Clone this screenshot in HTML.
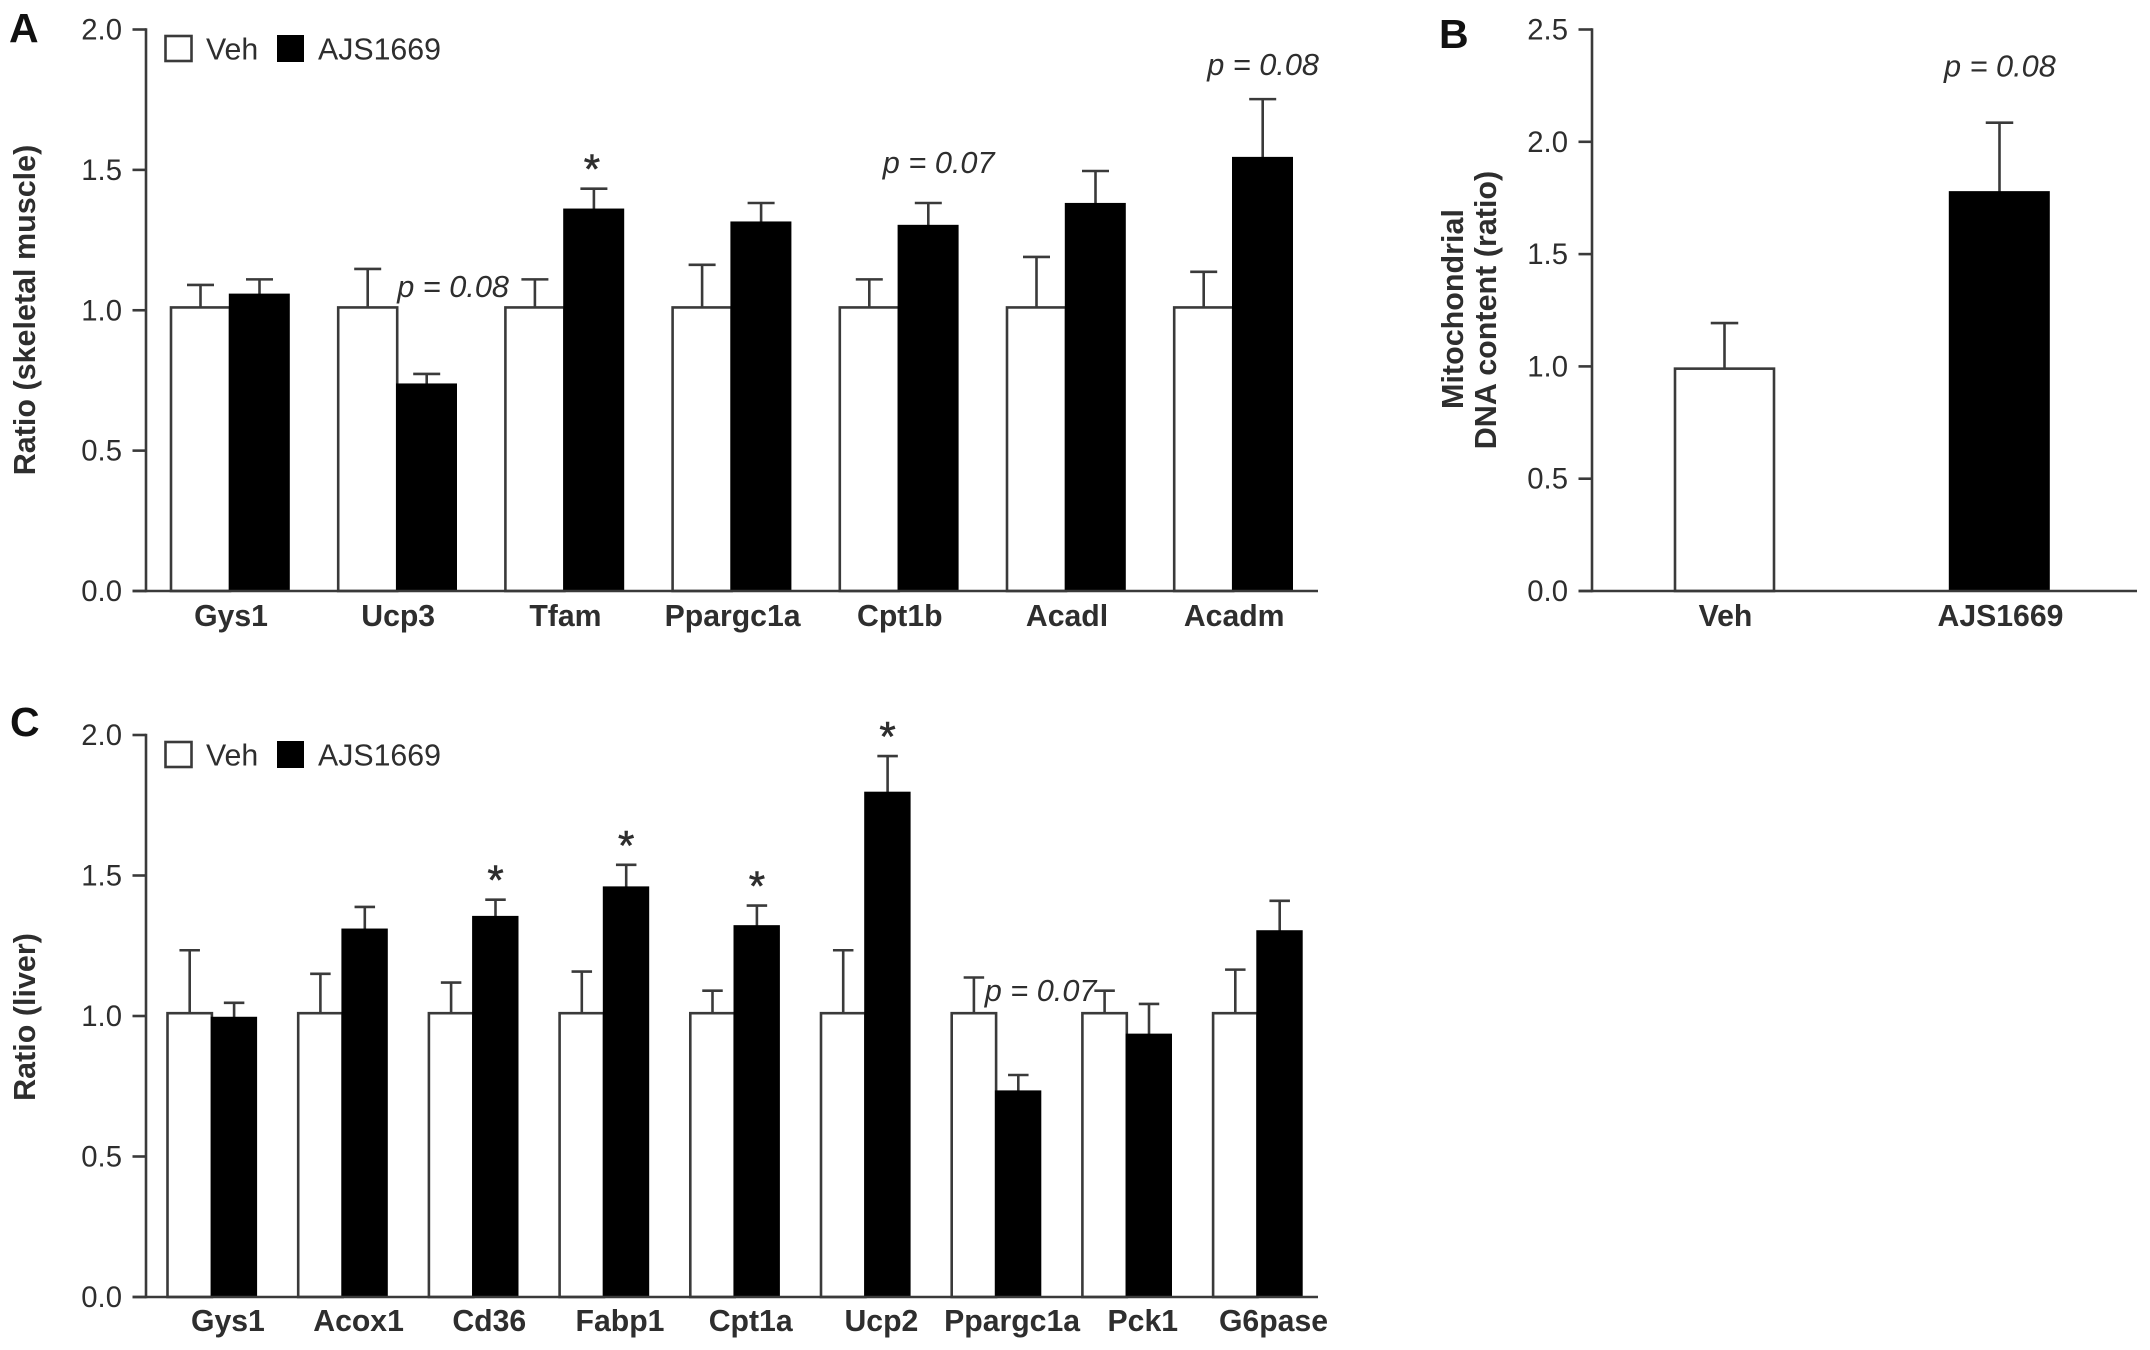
<!DOCTYPE html>
<html lang="en">
<head>
<meta charset="utf-8">
<title>AJS1669 gene expression and mitochondrial DNA content</title>
<style>
  html, body { margin: 0; padding: 0; background: #fff; }
  svg { display: block; }
  text { font-family: "Liberation Sans", sans-serif; fill: #2e2e2e; }
  .tick { font-size: 29.3px; text-anchor: end; }
  .cat { font-size: 30.2px; font-weight: bold; text-anchor: middle; }
  .title { font-size: 30.5px; font-weight: bold; text-anchor: middle; }
  .leg { font-size: 30.3px; }
  .p { font-size: 30.7px; font-style: italic; }
  .star { font-size: 42px; text-anchor: middle; stroke: #2e2e2e; stroke-width: 0.6px; }
  .letter { font-size: 41px; font-weight: bold; fill: #111; }
</style>
</head>
<body>
<svg id="fig" xmlns="http://www.w3.org/2000/svg" width="2150" height="1350" viewBox="0 0 2150 1350">
  <rect x="0" y="0" width="2150" height="1350" fill="#fff"/>
  <text class="letter" x="9" y="42">A</text>
  <text class="letter" x="1439" y="48">B</text>
  <text class="letter" x="10" y="736">C</text>
  <text class="title" transform="translate(35 310) rotate(-90)">Ratio (skeletal muscle)</text>
  <text class="title" transform="translate(1463 309) rotate(-90)">Mitochondrial</text>
  <text class="title" transform="translate(1496 310) rotate(-90)">DNA content (ratio)</text>
  <text class="title" transform="translate(35 1017) rotate(-90)">Ratio (liver)</text>
</svg>
<script>
// Panel A data: skeletal muscle
const categoriesA = ['Gys1', 'Ucp3', 'Tfam', 'Ppargc1a', 'Cpt1b', 'Acadl', 'Acadm'];
const vehA = [1.01, 1.01, 1.01, 1.01, 1.01, 1.01, 1.01];
const vehErrA = [0.08, 0.137, 0.10, 0.152, 0.10, 0.18, 0.127];
const ajsA = [1.055, 0.735, 1.358, 1.312, 1.30, 1.378, 1.542];
const ajsErrA = [0.055, 0.038, 0.075, 0.07, 0.082, 0.118, 0.21];
const ticksA = ['0.0', '0.5', '1.0', '1.5', '2.0'];
const starsA = ['Tfam'];
const pLabelsA = [['Ucp3', 'p = 0.08'], ['Cpt1b', 'p = 0.07'], ['Acadm', 'p = 0.08']];

// Panel B data: mitochondrial DNA
const categoriesB = ['Veh', 'AJS1669'];
const valuesB = [0.99, 1.775];
const errB = [0.203, 0.31];
const ticksB = ['0.0', '0.5', '1.0', '1.5', '2.0', '2.5'];
const pLabelsB = [['AJS1669', 'p = 0.08']];

// Panel C data: liver
const categoriesC = ['Gys1', 'Acox1', 'Cd36', 'Fabp1', 'Cpt1a', 'Ucp2', 'Ppargc1a', 'Pck1', 'G6pase'];
const vehC = [1.01, 1.01, 1.01, 1.01, 1.01, 1.01, 1.01, 1.01, 1.01];
const vehErrC = [0.224, 0.14, 0.109, 0.148, 0.08, 0.224, 0.127, 0.08, 0.155];
const ajsC = [0.993, 1.307, 1.352, 1.457, 1.319, 1.794, 0.731, 0.933, 1.301];
const ajsErrC = [0.054, 0.081, 0.062, 0.081, 0.074, 0.131, 0.059, 0.11, 0.109];
const ticksC = ['0.0', '0.5', '1.0', '1.5', '2.0'];
const starsC = ['Cd36', 'Fabp1', 'Cpt1a', 'Ucp2'];
const pLabelsC = [['Ppargc1a', 'p = 0.07']];

const legendLabels = ['Veh', 'AJS1669'];

const NS = 'http://www.w3.org/2000/svg';
const svg = document.getElementById('fig');
const INK = '#3a3a3a';
const LINE = 2.6;

function slug(s) {
  return String(s).toLowerCase().replace(/[^a-z0-9]+/g, '-').replace(/^-|-$/g, '');
}
function make(tag, attrs, name, parent) {
  const el = document.createElementNS(NS, tag);
  for (const k in attrs) el.setAttribute(k, attrs[k]);
  
  
  (parent || svg).appendChild(el);
  return el;
}
function line(x1, y1, x2, y2, name, parent) {
  return make('line', { x1: x1, y1: y1, x2: x2, y2: y2, stroke: INK, 'stroke-width': LINE }, name, parent);
}
function label(cls, x, y, str, name, parent) {
  const t = make('text', { class: cls, x: x, y: y }, name, parent);
  t.textContent = str;
  return t;
}
function linearY(maxVal, base, top) {
  return function (v) { return base - (v / maxVal) * (base - top); };
}
function drawAxes(p, y, ticks, g) {
  line(p.axisX, p.top - LINE / 2, p.axisX, p.base + LINE / 2, 'y-axis-line', g);
  line(p.axisX - 13.5, p.base, p.right, p.base, 'x-axis-line', g);
  ticks.forEach(function (t) {
    const v = parseFloat(t);
    line(p.axisX - 13.5, y(v), p.axisX, y(v), 'y-tick-' + slug(t), g);
    label('tick', p.axisX - 24, y(v) + 10, t, 'y-tick-label-' + slug(t), g);
  });
}
function errorBar(cx, yTop, yBar, capW, name, g) {
  line(cx, yBar, cx, yTop, name + '-error-stem', g);
  line(cx - capW / 2, yTop, cx + capW / 2, yTop, name + '-error-cap', g);
}
function whiteBar(x, w, yTop, base, name, g) {
  make('rect', { x: x, y: yTop, width: w, height: base - yTop, fill: '#fff', stroke: INK, 'stroke-width': LINE }, name, g);
}
function blackBar(x, w, yTop, base, name, g) {
  make('rect', { x: x - 1.2, y: yTop - 1.2, width: w + 2, height: base - yTop + 1.2, fill: '#000' }, name, g);
}
function drawLegend(p, g) {
  const lg = make('g', {}, 'legend', g);
  make('rect', { x: 165.5, y: p.legY, width: 26, height: 25, fill: '#fff', stroke: INK, 'stroke-width': LINE }, 'legend-swatch-veh', lg);
  label('leg', 206, p.legY + 23.5, legendLabels[0], 'legend-label-veh', lg);
  make('rect', { x: 277, y: p.legY - 1, width: 27, height: 27, fill: '#000' }, 'legend-swatch-ajs1669', lg);
  label('leg', 318, p.legY + 23.5, legendLabels[1], 'legend-label-ajs1669', lg);
}
function drawGrouped(p, cats, veh, vehErr, ajs, ajsErr, ticks, stars, pLabels, pPlace) {
  const g = make('g', {}, p.name, svg);
  const y = linearY(2, p.base, p.top);
  const gx = function (i) { return p.first + i * p.step; };
  cats.forEach(function (c, i) {
    const n = slug(c);
    const x0 = gx(i);
    const topErrVeh = y(veh[i] + vehErr[i]);
    const topErrAjs = y(ajs[i] + ajsErr[i]);
    errorBar(x0 + p.w / 2, topErrVeh, y(veh[i]), p.cap, 'veh-' + n, g);
    errorBar(x0 + p.w + p.w / 2, topErrAjs, y(ajs[i]), p.cap, 'ajs1669-' + n, g);
    whiteBar(x0, p.w, y(veh[i]), p.base, 'bar-veh-' + n, g);
    blackBar(x0 + p.w, p.w, y(ajs[i]), p.base, 'bar-ajs1669-' + n, g);
    label('cat', x0 + p.w + p.catDx, p.catY, c, 'x-label-' + n, g);
    if (stars.indexOf(c) >= 0) {
      label('star', x0 + p.w * 1.5 + p.starDx, topErrAjs + p.starDy, '*', 'significance-star-' + n, g);
    }
  });
  pLabels.forEach(function (e) {
    const i = cats.indexOf(e[0]);
    const place = pPlace[e[0]];
    label('p', gx(i) + place[0], y(ajs[i] + ajsErr[i]) + place[1], e[1], 'p-value-' + slug(e[0]), g);
  });
  drawAxes(p, y, ticks, g);
  drawLegend(p, g);
}

drawGrouped(
  { name: 'panel-a-chart', axisX: 146, right: 1318, top: 29.5, base: 591, first: 171, step: 167.2, w: 59, cap: 27, catDx: 1, catY: 626, starDx: -2, starDy: -5, legY: 37 - 1 },
  categoriesA, vehA, vehErrA, ajsA, ajsErrA, ticksA, starsA, pLabelsA,
  { Ucp3: [59, -77], Cpt1b: [43, -30], Acadm: [33, -24] }
);
drawGrouped(
  { name: 'panel-c-chart', axisX: 146, right: 1318, top: 735, base: 1297, first: 167.5, step: 130.7, w: 44.4, cap: 20.5, catDx: 16, catY: 1331, starDx: 0, starDy: -5, legY: 743 - 1 },
  categoriesC, vehC, vehErrC, ajsC, ajsErrC, ticksC, starsC, pLabelsC,
  { Ppargc1a: [33, -74] }
);

(function drawPanelB() {
  const g = make('g', {}, 'panel-b-chart', svg);
  const p = { axisX: 1592, right: 2137, top: 29.5, base: 591 };
  const y = linearY(2.5, p.base, p.top);
  const barX = function (i) { return 1675 + i * 275; };
  const barW = 99;
  categoriesB.forEach(function (c, i) {
    const n = slug(c);
    const x0 = barX(i);
    errorBar(x0 + barW / 2, y(valuesB[i] + errB[i]), y(valuesB[i]), 27.5, n, g);
    if (i === 0) whiteBar(x0, barW, y(valuesB[i]), p.base, 'bar-' + n, g);
    else blackBar(x0, barW, y(valuesB[i]), p.base, 'bar-' + n, g);
    label('cat', x0 + barW / 2 + 1, 626, c, 'x-label-' + n, g);
  });
  pLabelsB.forEach(function (e) {
    const i = categoriesB.indexOf(e[0]);
    label('p', barX(i) - 6, y(valuesB[i] + errB[i]) - 46, e[1], 'p-value-' + slug(e[0]), g);
  });
  drawAxes(p, y, ticksB, g);
})();
</script>
</body>
</html>
